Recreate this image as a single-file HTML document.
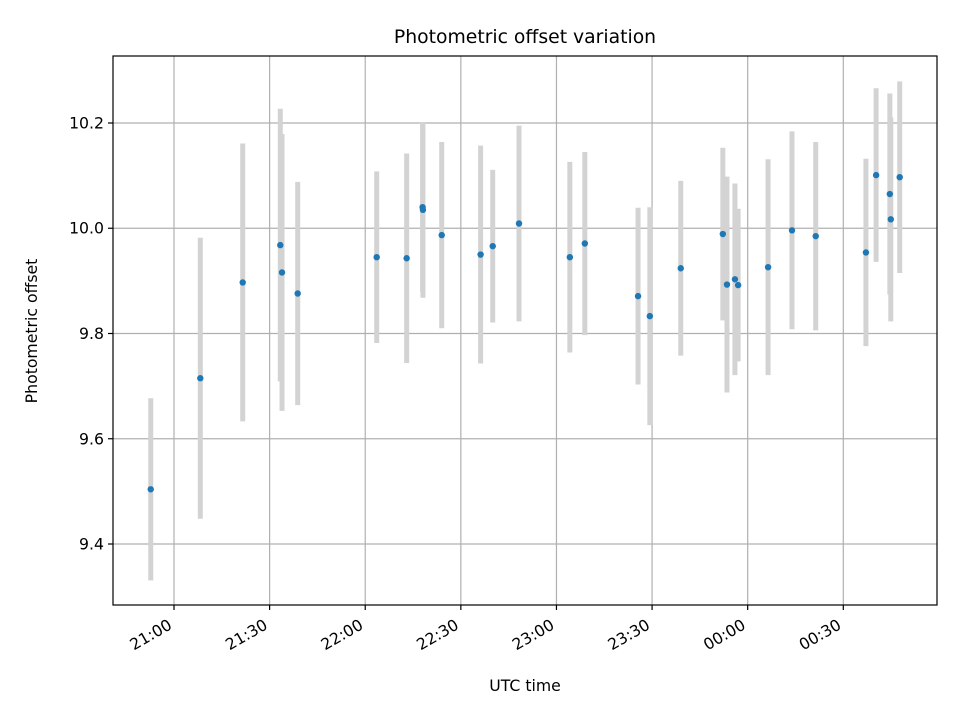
<!DOCTYPE html>
<html><head><meta charset="utf-8"><style>
html,body{margin:0;padding:0;background:#fff;}
svg{display:block;font-family:"DejaVu Sans","Liberation Sans",sans-serif;}
</style></head><body>
<svg id="chart" width="960" height="720" viewBox="0 0 960 720">
<rect x="0" y="0" width="960" height="720" fill="#fff"/>
<text x="525" y="43" text-anchor="middle" font-size="18.8" fill="#000">Photometric offset variation</text>
<text x="525" y="691" text-anchor="middle" font-size="15.7" fill="#000">UTC time</text>
<text x="37" y="331" text-anchor="middle" font-size="15.7" fill="#000" transform="rotate(-90 37 331)">Photometric offset</text>
<g id="grid"></g>
<g id="errs"></g>
<g id="pts"></g>
<g id="axes"></g>
<rect x="113" y="56" width="824" height="549" fill="none" stroke="#000" stroke-width="1.2"/>
</svg>
<script>
// minutes after 21:00 UTC
const times = [-7.3,8.25,21.56,33.35,33.89,38.81,63.6,73.0,78.0,78.1,84.0,96.2,100.0,108.25,124.2,128.9,145.6,149.3,159.0,172.2,173.5,176.0,177.0,186.4,193.9,201.35,217.1,220.3,224.6,224.9,227.7];
const offsets = [9.504,9.715,9.897,9.968,9.916,9.876,9.945,9.943,10.040,10.035,9.987,9.950,9.966,10.009,9.945,9.971,9.871,9.833,9.924,9.989,9.893,9.903,9.892,9.926,9.996,9.985,9.954,10.101,10.065,10.017,10.097];
const errors = [0.173,0.267,0.264,0.259,0.263,0.212,0.163,0.199,0.161,0.167,0.177,0.207,0.145,0.186,0.181,0.174,0.168,0.207,0.166,0.164,0.205,0.182,0.145,0.205,0.188,0.179,0.178,0.165,0.191,0.194,0.182];
const yTicks = [9.4,9.6,9.8,10.0,10.2];
const yTickLabels = ["9.4","9.6","9.8","10.0","10.2"];
const xTicks = [0,30,60,90,120,150,180,210];
const xTickLabels = ["21:00","21:30","22:00","22:30","23:00","23:30","00:00","00:30"];

const NS="http://www.w3.org/2000/svg";
const L=113,R=937,T=56,B=605;
const tMin=-19.14,tMax=239.4,yMin=9.2841,yMax=10.3273;
function xs(t){return L+(t-tMin)/(tMax-tMin)*(R-L);}
function ys(v){return B-(v-yMin)/(yMax-yMin)*(B-T);}
function mk(tag,attrs,parent){const e=document.createElementNS(NS,tag);for(const k in attrs)e.setAttribute(k,attrs[k]);parent.appendChild(e);return e;}
const grid=document.getElementById('grid'),errs=document.getElementById('errs'),pts=document.getElementById('pts'),axes=document.getElementById('axes');
yTicks.forEach((v,i)=>{
  const y=ys(v);
  const g=mk('line',{x1:L,x2:R,y1:y,y2:y,stroke:'#b0b0b0','stroke-width':1.2},grid);
  
  
  const tk=mk('line',{x1:L-5,x2:L,y1:y,y2:y,stroke:'#000','stroke-width':1.2},axes);
  
  
  const tx=mk('text',{x:L-9,y:y+5.5,'text-anchor':'end','font-size':15.7,fill:'#000'},axes);
  tx.textContent=yTickLabels[i];
  
  
});
xTicks.forEach((t,i)=>{
  const x=xs(t);
  const g=mk('line',{x1:x,x2:x,y1:T,y2:B,stroke:'#b0b0b0','stroke-width':1.2},grid);
  
  
  const tk=mk('line',{x1:x,x2:x,y1:B,y2:B+5,stroke:'#000','stroke-width':1.2},axes);
  
  
  const ax=x-1,ay=B+23;
  const tx=mk('text',{x:ax,y:ay,'text-anchor':'end','font-size':15.7,fill:'#000',transform:'rotate(-30 '+ax+' '+ay+')'},axes);
  tx.textContent=xTickLabels[i];
  
  
});
times.forEach((t,i)=>{
  const x=xs(t);
  const e=mk('line',{x1:x,x2:x,y1:ys(offsets[i]+errors[i]),y2:ys(offsets[i]-errors[i]),stroke:'#d3d3d3','stroke-width':5},errs);
  
  
});
times.forEach((t,i)=>{
  const c=mk('circle',{cx:xs(t),cy:ys(offsets[i]),r:3.2,fill:'#1f77b4'},pts);
  
  
});
</script>
</body></html>
